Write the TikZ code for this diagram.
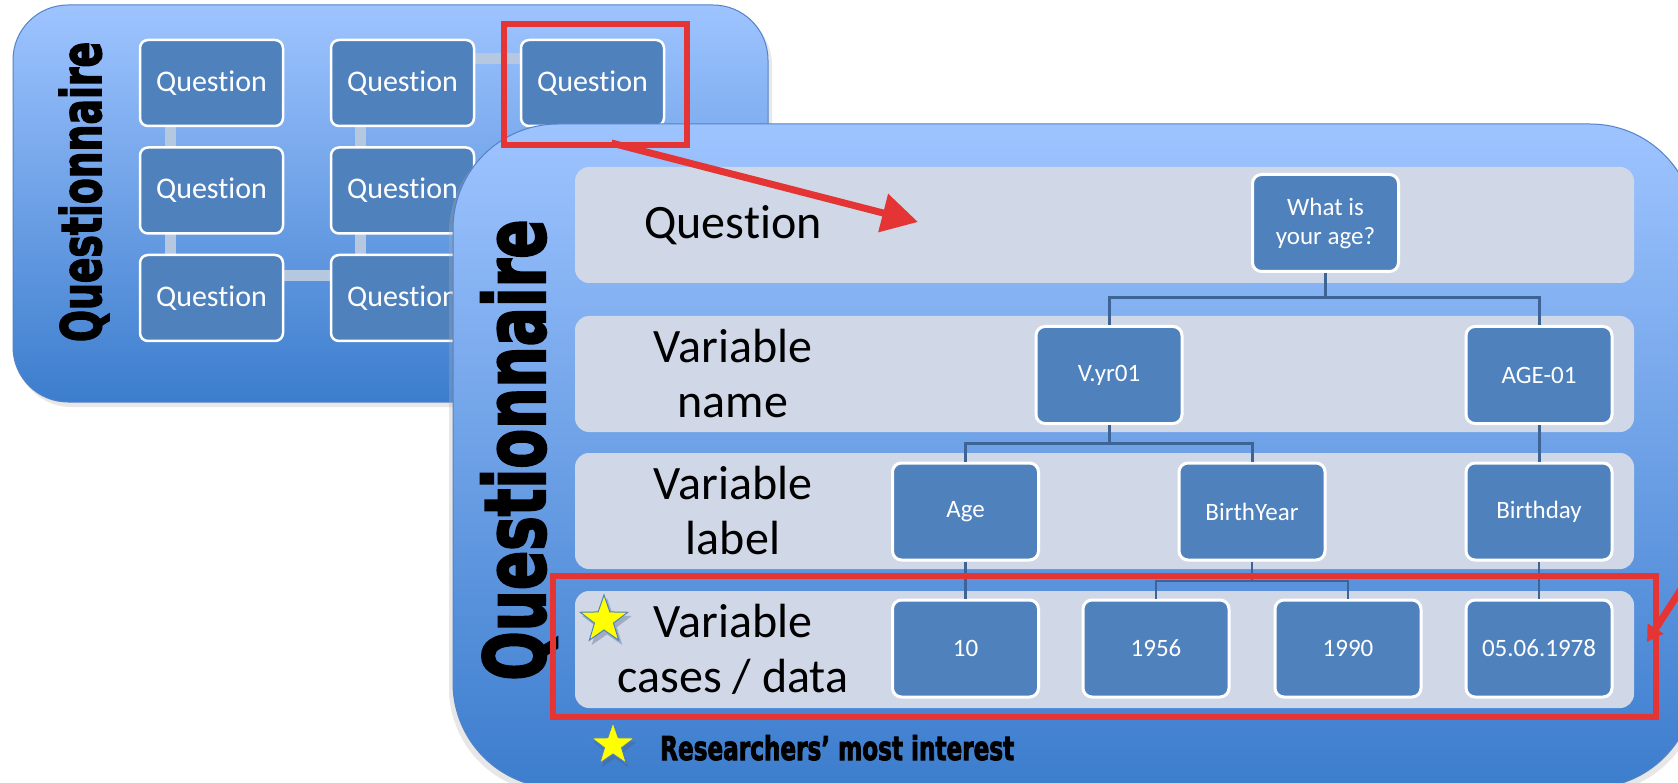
\documentclass[tikz,border=0pt]{standalone}
\usepackage{fontspec}
\usepackage{graphicx}
\setmainfont{Carlito}[Ligatures=NoCommon]
\newfontfamily\heavy{DejaVu Sans}[UprightFont={* Bold},FakeBold=3]
\usetikzlibrary{arrows.meta,shapes.geometric,calc}

\definecolor{panelTop}{RGB}{158,196,255}
\definecolor{panelBot}{RGB}{60,125,205}
\definecolor{panelEdge}{RGB}{84,130,200}
\definecolor{boxBlue}{RGB}{79,129,189}
\definecolor{bandGray}{RGB}{208,216,232}
\definecolor{treeLine}{RGB}{62,100,150}
\definecolor{snakeLine}{RGB}{182,199,224}
\definecolor{alertRed}{RGB}{229,52,52}
\definecolor{starYellow}{RGB}{255,255,0}
\definecolor{starEdge}{RGB}{79,129,189}
\definecolor{starShade}{RGB}{70,90,130}

\tikzset{
  panel/.style={top color=panelTop, bottom color=panelBot, draw=panelEdge, line width=1pt},
  qbox/.style={rectangle, rounded corners=8pt, fill=boxBlue, draw=white, line width=2.5pt,
    text=white, font=\fontsize{30}{36}\selectfont, minimum width=143pt, minimum height=86pt, inner sep=0pt},
  tbox/.style={rectangle, rounded corners=9pt, fill=boxBlue, draw=white, line width=3pt,
    text=white, font=\fontsize{25}{29}\selectfont, align=center,
    minimum width=146pt, minimum height=97pt, inner sep=0pt},
  band/.style={fill=bandGray, rounded corners=14pt},
  rowlabel/.style={font=\fontsize{48}{55}\selectfont, align=center, inner sep=0pt},
  snake/.style={draw=snakeLine, line width=11pt},
  treelink/.style={draw=treeLine, line width=3pt},
  redframe/.style={draw=alertRed, line width=6pt, rectangle, inner sep=0pt},
  redarrow/.style={draw=alertRed, line width=7pt, -{Triangle[length=36pt,width=38pt]}},
  yellowstar/.style={star, star points=5, star point ratio=2.5, fill=starYellow,
    draw=starEdge, line width=1pt, inner sep=0pt},
  starshadow/.style={star, star points=5, star point ratio=2.5, fill=starShade, opacity=0.35,
    inner sep=0pt}
}

\begin{document}
\begin{tikzpicture}[x=1pt,y=-1pt]
\useasboundingbox (0,0) rectangle (1678,783);
\fill[white] (0,0) rectangle (1678,783);
\clip (0,0) rectangle (1678,783);

% ---- questionnaire overview (back panel) ----
\fill[black!25, opacity=0.35, rounded corners=55pt] (16,10) rectangle (772,407);
\path[panel, rounded corners=55pt] (13,5) rectangle (768,402);

% snake connectors between the question boxes
\coordinate (s11) at (170,126);  \coordinate (s21t) at (170,148);
\coordinate (s21) at (170,233);  \coordinate (s31t) at (170,255);
\coordinate (s12) at (360,126);  \coordinate (s22t) at (360,148);
\coordinate (s22) at (360,233);  \coordinate (s32t) at (360,255);
\coordinate (s31r) at (283,276); \coordinate (s32l) at (332,276);
\coordinate (s12r) at (473,59);  \coordinate (s13l) at (521,59);
\draw[snake] (s11) -- (s21t);
\draw[snake] (s21) -- (s31t);
\draw[snake] (s12) -- (s22t);
\draw[snake] (s22) -- (s32t);
\draw[snake] (s31r) -- (s32l);
\draw[snake] (s12r) -- (s13l);

\node[qbox] (b11) at (211.5,83) {Question};
\node[qbox] (b12) at (402.5,83) {Question};
\node[qbox] (b13) at (592.5,83) {Question};
\node[qbox] (b21) at (211.5,190.5) {Question};
\node[qbox] (b22) at (402.5,190.5) {Question};
\node[qbox] (b31) at (211.5,298) {Question};
\node[qbox] (b32) at (402.5,298) {Question};

\node[rotate=90, inner sep=0pt] (titleBack) at (84,192)
  {\resizebox{300pt}{42pt}{\heavy Questionnaire}};

% ---- detailed questionnaire (front panel) ----
\fill[black!30, opacity=0.3, rounded corners=105pt] (449,128) rectangle (1699,793);
\path[panel, rounded corners=105pt] (453,124) rectangle (1695,788);

\fill[band] (575,167) rectangle (1634,283);
\fill[band] (575,316) rectangle (1634,432);
\fill[band] (575,453) rectangle (1634,569);
\fill[band] (575,591) rectangle (1634,708);

\node[rowlabel] (lblQ) at (733,225) {Question};
\node[rowlabel] (lblName) at (733,374) {Variable\\name};
\node[rowlabel] (lblLabel) at (733,511) {Variable\\label};
\node[rowlabel] (lblCases) at (733,649) {Variable\\cases / data};

\node[rotate=90, inner sep=0pt] (titleFront) at (519,450)
  {\resizebox{461pt}{64pt}{\heavy Questionnaire}};

% tree of question, variable names, labels and data
\node[tbox] (q)     at (1325.5,223) {What is\\your age?};
\node[tbox] (vyr)   at (1109,375)   {V.yr01};
\node[tbox] (age01) at (1539,375)   {AGE-01};
\node[tbox] (age)   at (965.5,511.5) {Age};
\node[tbox] (by)    at (1252,511.5)  {BirthYear};
\node[tbox] (bd)    at (1539,511.5)  {Birthday};
\node[tbox] (d10)   at (965.5,648.5) {10};
\node[tbox] (d1956) at (1156,648.5)  {1956};
\node[tbox] (d1990) at (1348,648.5)  {1990};
\node[tbox] (d0506) at (1539,648.5)  {05.06.1978};

\draw[treelink] (q.south) -- (q.south |- 0,298) -| (vyr.north);
\draw[treelink] (q.south |- 0,298) -| (age01.north);
\draw[treelink] (vyr.south) -- (vyr.south |- 0,443) -| (age.north);
\draw[treelink] (vyr.south |- 0,443) -| (by.north);
\draw[treelink] (age01.south) -- (bd.north);
\draw[treelink, line width=2.5pt] (age.south) -- (d10.north);
\draw[treelink, line width=2.5pt] (by.south) -- (by.south |- 0,581) -| (d1956.north);
\draw[treelink, line width=2.5pt] (by.south |- 0,581) -| (d1990.north);
\draw[treelink, line width=2.5pt] (bd.south) -- (d0506.north);

% stars marking the researchers' focus
\node[starshadow, minimum size=52pt] at (607,624) {};
\node[yellowstar, minimum size=50pt] (star1) at (604,620) {};
\node[starshadow, minimum size=46pt] at (615,749) {};
\node[yellowstar, minimum size=45pt] (star2) at (613,745) {};
\node[anchor=base west, inner sep=0pt] (legend) at (660,760)
  {\resizebox{354pt}{25pt}{\heavy Researchers’ most interest}};

% ---- highlight frames and arrows ----
\node[redframe, minimum width=183pt, minimum height=121pt] (rb1) at (595.5,84.5) {};
\coordinate (tipQ) at (918,222);
\draw[redarrow] ($(rb1.south)+(16,-5)$) -- (tipQ);

\coordinate (fromRight) at (1742,495);
\coordinate (tipData) at (1647,642);
\draw[draw=alertRed, line width=7pt, -{Triangle[length=16pt,width=18pt]}] (fromRight) -- (tipData);

\node[redframe, minimum width=1103pt, minimum height=141pt] (rb2) at (1104.5,646.5) {};
\end{tikzpicture}
\end{document}
